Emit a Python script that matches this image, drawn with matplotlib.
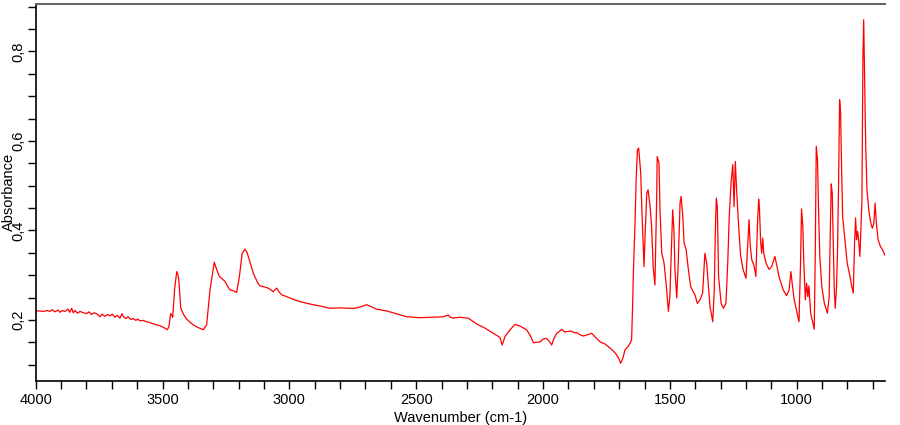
import numpy as np
import matplotlib.pyplot as plt
from matplotlib.ticker import MultipleLocator, FuncFormatter

# spectrum (wavenumber cm-1, absorbance)
wavenumber = [4000, 3985, 3970, 3955, 3944, 3935, 3925, 3911, 3904, 3895, 3885, 3872, 3866, 3858, 3852,
              3845, 3835, 3825, 3812, 3800, 3790, 3780, 3770, 3760, 3752, 3747, 3738, 3728, 3717, 3707,
              3698, 3688, 3678, 3668, 3660, 3655, 3645, 3636, 3625, 3615, 3605, 3598, 3589, 3575, 3565,
              3549, 3530, 3510, 3495, 3481, 3475, 3468, 3464, 3460, 3452, 3444, 3440, 3436, 3428, 3417,
              3405, 3390, 3379, 3360, 3339, 3326, 3313, 3296, 3288, 3276, 3265, 3254, 3244, 3234, 3220,
              3208, 3197, 3186, 3175, 3168, 3162, 3142, 3125, 3116, 3100, 3083, 3063, 3056, 3050, 3040,
              3030, 3015, 2997, 2980, 2958, 2930, 2906, 2870, 2840, 2800, 2770, 2741, 2715, 2695, 2675,
              2656, 2616, 2580, 2537, 2510, 2485, 2440, 2393, 2374, 2365, 2354, 2330, 2295, 2262, 2230,
              2196, 2170, 2161, 2150, 2130, 2111, 2090, 2065, 2050, 2038, 2025, 2012, 2000, 1988, 1975,
              1966, 1956, 1946, 1936, 1926, 1915, 1907, 1890, 1875, 1867, 1855, 1841, 1825, 1808, 1795,
              1775, 1755, 1736, 1722, 1710, 1700, 1694, 1685, 1677, 1665, 1657, 1651, 1647, 1644, 1637,
              1633, 1628, 1623, 1615, 1610, 1602, 1597, 1591, 1586, 1578, 1572, 1566, 1559, 1552, 1550,
              1543, 1539, 1532, 1523, 1515, 1506, 1500, 1493, 1489, 1484, 1480, 1473, 1467, 1460, 1456,
              1449, 1444, 1436, 1427, 1418, 1401, 1392, 1381, 1371, 1362, 1355, 1349, 1342, 1331, 1325,
              1321, 1317, 1313, 1308, 1298, 1289, 1279, 1272, 1266, 1259, 1252, 1247, 1242, 1237, 1229,
              1221, 1211, 1200, 1193, 1188, 1183, 1177, 1168, 1161, 1155, 1150, 1147, 1142, 1138, 1134,
              1130, 1121, 1109, 1099, 1086, 1079, 1070, 1053, 1040, 1030, 1023, 1018, 1010, 1001, 991,
              985, 981, 976, 972, 966, 961, 956, 952, 945, 935, 931, 927, 923, 918, 914,
              909, 901, 891, 879, 872, 868, 864, 860, 856, 852, 848, 843, 839, 835, 831,
              827, 823, 819, 810, 801, 790, 783, 777, 772, 768, 764, 760, 756, 751, 747,
              743, 739, 736, 732, 728, 723, 716, 708, 702, 696, 691, 686, 679, 670, 662,
              653]
absorbance = [0.220, 0.220, 0.219, 0.221, 0.219, 0.223, 0.218, 0.222, 0.217, 0.221, 0.219, 0.224, 0.217, 0.226, 0.216,
              0.221, 0.215, 0.219, 0.216, 0.214, 0.218, 0.212, 0.216, 0.214, 0.210, 0.207, 0.213, 0.208, 0.212, 0.209,
              0.213, 0.206, 0.210, 0.204, 0.214, 0.208, 0.203, 0.207, 0.201, 0.203, 0.199, 0.202, 0.198, 0.199, 0.196,
              0.194, 0.190, 0.187, 0.183, 0.178, 0.185, 0.214, 0.211, 0.206, 0.271, 0.308, 0.303, 0.289, 0.226, 0.212,
              0.202, 0.194, 0.189, 0.183, 0.178, 0.189, 0.267, 0.329, 0.315, 0.297, 0.292, 0.286, 0.276, 0.267, 0.265,
              0.261, 0.297, 0.349, 0.358, 0.352, 0.342, 0.304, 0.283, 0.276, 0.274, 0.271, 0.263, 0.268, 0.271, 0.262,
              0.256, 0.253, 0.249, 0.245, 0.241, 0.237, 0.234, 0.230, 0.226, 0.227, 0.226, 0.226, 0.230, 0.234, 0.229,
              0.224, 0.220, 0.214, 0.207, 0.206, 0.205, 0.206, 0.207, 0.211, 0.206, 0.204, 0.206, 0.204, 0.191, 0.182,
              0.170, 0.161, 0.144, 0.163, 0.178, 0.190, 0.186, 0.178, 0.165, 0.149, 0.150, 0.151, 0.157, 0.159, 0.152,
              0.144, 0.160, 0.170, 0.174, 0.179, 0.173, 0.174, 0.175, 0.171, 0.172, 0.167, 0.164, 0.167, 0.170, 0.162,
              0.151, 0.146, 0.137, 0.130, 0.122, 0.112, 0.103, 0.115, 0.133, 0.140, 0.148, 0.155, 0.230, 0.304, 0.424,
              0.513, 0.580, 0.584, 0.528, 0.439, 0.319, 0.401, 0.483, 0.491, 0.453, 0.409, 0.319, 0.278, 0.476, 0.565,
              0.551, 0.446, 0.349, 0.327, 0.282, 0.219, 0.252, 0.372, 0.446, 0.401, 0.312, 0.249, 0.327, 0.461, 0.476,
              0.431, 0.372, 0.357, 0.312, 0.274, 0.256, 0.237, 0.245, 0.260, 0.349, 0.327, 0.282, 0.230, 0.196, 0.267,
              0.394, 0.472, 0.453, 0.297, 0.237, 0.226, 0.237, 0.327, 0.431, 0.506, 0.547, 0.453, 0.554, 0.491, 0.409,
              0.342, 0.312, 0.293, 0.372, 0.424, 0.364, 0.334, 0.321, 0.297, 0.409, 0.470, 0.450, 0.372, 0.349, 0.383,
              0.349, 0.327, 0.313, 0.319, 0.342, 0.323, 0.297, 0.267, 0.254, 0.267, 0.308, 0.282, 0.245, 0.222, 0.196,
              0.327, 0.448, 0.409, 0.327, 0.245, 0.282, 0.252, 0.276, 0.215, 0.189, 0.179, 0.342, 0.588, 0.558, 0.446,
              0.342, 0.274, 0.237, 0.215, 0.252, 0.386, 0.504, 0.483, 0.372, 0.267, 0.226, 0.275, 0.357, 0.506, 0.692,
              0.662, 0.536, 0.431, 0.379, 0.327, 0.297, 0.275, 0.260, 0.372, 0.428, 0.379, 0.398, 0.379, 0.342, 0.401,
              0.465, 0.789, 0.871, 0.722, 0.588, 0.491, 0.446, 0.416, 0.405, 0.416, 0.461, 0.416, 0.379, 0.364, 0.357,
              0.345]

plt.rcParams['font.family'] = ['Liberation Sans', 'DejaVu Sans']

fig = plt.figure(figsize=(9, 4.25), dpi=100)
ax = fig.add_axes([35.7 / 900, 44 / 425, (885 - 35.7) / 900, 377 / 425])

ax.plot(wavenumber, absorbance, color='#ff0000', lw=0.9)

ax.set_xlim(4000, 652)
ax.set_ylim(0.0635, 0.906)

ax.xaxis.set_major_locator(MultipleLocator(100))
ax.yaxis.set_major_locator(MultipleLocator(0.05))
ax.xaxis.set_major_formatter(FuncFormatter(lambda v, p: '%d' % v if int(round(v)) % 500 == 0 else ''))


def ylab(v, p):
    k = int(round(v * 100))
    if k % 20 == 0 and k > 0:
        return ('%.1f' % v).replace('.', ',')
    return ''


ax.yaxis.set_major_formatter(FuncFormatter(ylab))
ax.tick_params(direction='out', length=6, width=1, labelsize=10.5, color='black')
ax.tick_params(axis='x', pad=3)
ax.tick_params(axis='y', pad=1.5)
plt.setp(ax.get_yticklabels(), rotation=90, va='center')

ax.spines['right'].set_visible(False)
ax.spines['top'].set_color('#666666')
ax.spines['top'].set_linewidth(1.5)
ax.spines['left'].set_linewidth(1.2)
ax.spines['bottom'].set_linewidth(1.2)

fig.text(460.5 / 900, 7 / 425, 'Wavenumber (cm-1)', ha='center', va='center', fontsize=10.5)
fig.text(9 / 900, 233 / 425, 'Absorbance', ha='center', va='center', rotation=90, fontsize=10.5)

plt.savefig('out.png', dpi=100)
plt.close('all')
